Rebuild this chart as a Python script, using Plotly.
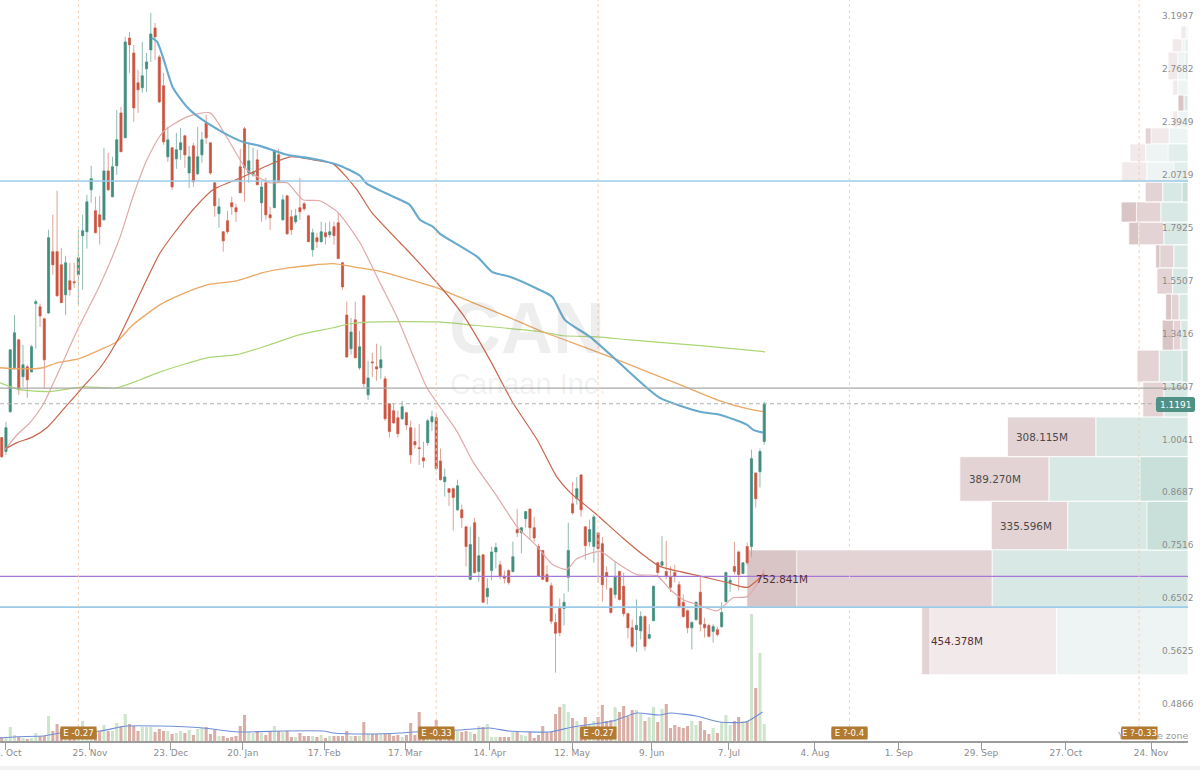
import numpy as np
import plotly.graph_objects as go

# Candles: one entry per trading bar
opens = [1.020,.982,1.095,1.235,1.333,1.205,1.238,1.221,1.472,1.459,1.412,1.435,1.697,1.697,1.637,1.508,1.567,1.563,1.593,1.773,
1.792,2.010,1.898,1.877,1.852,2.117,1.972,2.147,2.481,2.318,3.046,2.924,2.694,2.658,2.799,2.948,3.131,2.892,2.672,2.200,
2.255,2.188,2.243,2.330,2.105,2.267,2.100,2.212,2.414,2.286,2.049,1.883,1.792,1.847,1.940,1.914,2.141,2.375,2.105,2.094,
2.182,1.940,2.049,1.877,1.914,2.212,1.852,1.977,1.867,1.842,1.914,1.935,1.872,1.706,1.763,1.744,1.787,1.777,1.817,1.837,
1.646,1.427,1.301,1.408,1.235,1.504,1.147,1.255,1.238,1.235,1.198,1.119,1.098,1.077,1.074,1.092,1.048,1.009,.992,.965,
1.006,1.065,1.077,.957,.904,.887,.887,.837,.837,.799,.692,.808,.707,.740,.660,.709,.746,.720,.698,.709,
.707,.793,.786,.817,.839,.797,.757,.749,.701,.680,.615,.639,.639,.696,.851,.863,.921,.799,.767,.757,
.786,.763,.705,.675,.664,.707,.679,.630,.606,.603,.601,.625,.589,.618,.724,.719,.707,.696,.705,.682,
.650,.635,.606,.620,.668,.612,.610,.600,.603,.608,.651,.686,.717,.746,.703,.757,.757,.926,.929,1.009]
highs = [1.022,1.065,1.297,1.427,1.337,1.315,1.245,1.315,1.488,1.472,1.416,1.802,1.877,2.005,1.715,1.678,1.646,1.646,1.802,1.877,
1.983,2.147,1.972,1.977,2.255,2.224,2.200,2.502,2.522,3.055,3.097,2.989,2.791,3.013,2.924,3.262,3.174,2.908,2.769,2.388,
2.261,2.349,2.382,2.337,2.267,2.286,2.388,2.356,2.468,2.286,2.049,1.966,1.792,1.898,1.972,1.935,2.249,2.388,2.286,2.255,
2.243,2.055,2.077,1.919,2.243,2.249,1.983,1.983,1.903,1.908,2.077,1.945,1.872,1.807,1.787,1.842,1.837,1.842,1.842,1.888,
1.651,1.480,1.416,1.480,1.366,1.508,1.259,1.287,1.319,1.312,1.208,1.119,1.119,1.098,1.128,1.095,1.068,1.048,1.059,1.009,
1.074,1.098,1.089,.990,.937,.887,.890,.909,.849,.799,.799,.819,.777,.740,.694,.757,.765,.728,.709,.711,
.767,.839,.799,.833,.839,.821,.763,.749,.719,.686,.630,.657,.666,.808,.904,.916,.923,.799,.815,.826,
.786,.777,.717,.677,.726,.709,.705,.632,.620,.655,.634,.627,.612,.680,.726,.779,.769,.717,.720,.688,
.664,.637,.617,.651,.698,.623,.613,.612,.608,.650,.707,.696,.767,.749,.726,.765,.987,.926,.990,1.125]
lows = [.965,.973,1.092,1.228,1.147,1.172,1.137,1.221,1.301,1.381,1.169,1.431,1.593,1.500,1.476,1.427,1.504,1.537,1.468,1.529,
1.711,1.940,1.787,1.730,1.847,2.005,1.972,2.094,2.231,2.318,2.769,2.421,2.481,2.621,2.628,2.853,2.869,2.550,2.274,2.170,
2.010,2.129,2.182,2.135,2.021,2.026,2.094,2.164,2.280,2.094,1.867,1.812,1.697,1.782,1.877,1.842,1.994,1.945,2.049,2.082,
2.038,1.842,1.852,1.802,1.914,2.055,1.847,1.777,1.777,1.832,1.852,1.898,1.744,1.674,1.715,1.739,1.730,1.763,1.730,1.665,
1.529,1.269,1.280,1.269,1.228,1.169,1.131,1.205,1.192,1.198,1.068,1.020,1.059,1.020,1.071,1.042,.950,.990,.947,.939,
.998,1.039,.932,.907,.868,.846,.791,.835,.797,.717,.690,.703,.688,.650,.646,.690,.713,.692,.684,.682,
.705,.777,.743,.797,.771,.767,.696,.690,.686,.612,.536,.592,.610,.669,.826,.849,.821,.730,.757,.724,
.686,.651,.673,.630,.657,.653,.625,.589,.573,.567,.587,.569,.587,.618,.698,.717,.692,.668,.686,.639,
.623,.597,.571,.617,.600,.590,.590,.582,.592,.606,.651,.669,.701,.671,.703,.719,.736,.842,.890,1.000]
closes = [.968,1.048,1.297,1.359,1.163,1.245,1.195,1.308,1.480,1.423,1.262,1.763,1.637,1.504,1.476,1.646,1.529,1.559,1.669,1.797,
1.945,2.072,1.787,1.817,2.117,2.010,2.141,2.305,2.231,3.013,2.989,2.515,2.643,2.746,2.853,3.080,3.055,2.557,2.292,2.305,
2.026,2.243,2.286,2.212,2.200,2.055,2.200,2.305,2.318,2.105,1.924,1.919,1.748,1.792,1.919,1.893,1.994,2.135,2.176,2.111,
2.038,2.026,1.877,1.862,2.237,2.055,1.956,1.782,1.802,1.872,1.893,1.908,1.744,1.787,1.744,1.792,1.768,1.792,1.773,1.665,
1.541,1.272,1.362,1.269,1.308,1.182,1.201,1.252,1.231,1.262,1.074,1.037,1.062,1.031,1.110,1.056,.973,1.000,.990,.957,
1.068,1.080,.937,.909,.916,.878,.866,.894,.819,.757,.761,.705,.738,.650,.675,.746,.755,.698,.694,.686,
.736,.786,.797,.833,.797,.775,.698,.692,.688,.617,.597,.598,.650,.749,.830,.887,.837,.759,.793,.821,
.753,.682,.698,.632,.696,.655,.630,.606,.576,.610,.625,.576,.595,.679,.705,.726,.698,.677,.698,.641,
.625,.606,.615,.650,.612,.606,.592,.608,.595,.632,.705,.690,.707,.701,.724,.724,.963,.863,.982,1.1191]
volumes = [4,3,14,6,4,3,2,3,8,5,5,25,10,17,12,9,10,10,7,20,14,11,10,10,16,10,10,18,15,27,17,15,10,14,14,14,9,12,10,10,
7,8,10,8,11,6,12,13,14,7,11,5,5,3,4,5,15,26,9,8,10,8,6,9,15,10,9,10,4,4,8,5,5,5,4,6,3,5,5,5,
5,10,5,5,5,19,7,7,7,7,7,7,5,6,4,6,18,6,29,7,7,10,21,10,10,12,10,10,9,10,9,7,15,14,17,4,4,4,4,4,
9,9,6,5,9,3,6,15,8,9,27,34,37,29,23,20,14,24,17,20,24,36,20,21,34,29,35,25,31,31,27,20,24,34,19,32,37,13,16,14,
13,15,20,16,20,11,7,13,8,19,26,16,20,24,20,20,127,53,88,17]

# Moving averages: (bar position, price)
ma_pink_x = [.8,3.6,6.6,9.7,13,17.9,23.1,27.8,30.8,34.1,37.9,43.5,48.9,52.9,57.6,63,67,70.7,74.7,79,84.1,88.8,92.8,99.8,102.2,106.9,110.6,116.3,121,125.7,129.4,132.7,135,140.4,144.4,149.1,153.8,156.9,159.9,163.2,167.9,171.7,175,178,179]
ma_pink_y = [.987,1.028,1.062,1.116,1.211,1.374,1.550,1.767,1.972,2.182,2.356,2.454,2.481,2.318,2.123,2.049,2.049,1.956,1.951,1.888,1.739,1.558,1.419,1.169,1.122,1.037,.955,.868,.799,.757,.720,.711,.732,.747,.724,.701,.699,.673,.655,.646,.635,.658,.660,.692,.711]
ma_red_x = [1,3.6,7.3,10.6,14.4,19.1,23.1,27,31.8,37.2,43.5,49.6,56.6,62.3,67.7,73.1,77.8,83.4,86.9,93.5,95.1,103.6,108.3,114.6,120,125.7,130.3,133.4,139.7,145.8,151.5,154.5,164,170.3,175,179]
ma_red_y = [.990,1.006,1.022,1.048,1.101,1.172,1.235,1.326,1.488,1.692,1.867,2.010,2.082,2.147,2.200,2.182,2.158,2.010,1.888,1.739,1.706,1.529,1.427,1.262,1.122,1.014,.916,.878,.826,.775,.734,.717,.698,.686,.677,.703]
ma_orange_x = [-.4,4.3,9.7,13,17.9,23.1,27,30.8,37.2,41.9,48.2,55.2,61.3,67.7,77.8,82.5,88.1,93.5,102.2,110,119.3,127.1,133.4,139.7,147.5,159.2,168.6,175,178.7]
ma_orange_y = [1.235,1.231,1.235,1.252,1.265,1.297,1.326,1.389,1.468,1.508,1.550,1.567,1.602,1.624,1.642,1.628,1.611,1.584,1.537,1.480,1.416,1.362,1.326,1.290,1.245,1.179,1.128,1.104,1.095]
ma_green_x = [-.4,4.3,11.3,19.1,27,32.5,37.2,48.2,55.2,62.3,70,77.8,81.8,88.1,102.2,110,127.1,131.8,139.7,147.5,164,179.2]
ma_green_y = [1.185,1.163,1.157,1.172,1.169,1.195,1.221,1.269,1.280,1.312,1.352,1.378,1.393,1.400,1.400,1.389,1.362,1.348,1.344,1.333,1.312,1.290]
ma_blue_x = [35.3,36.5,37.9,40.2,43.5,46.5,51.7,56.6,60.6,67,73.1,79.4,84.1,85.7,93.5,95.8,98.2,101.2,102.9,111.6,115.1,119.3,125.7,129.2,132.2,138.1,143.5,147.5,154.5,163.9,168.6,175,176.4,178.7]
ma_blue_y = [3.046,3.013,2.885,2.658,2.522,2.447,2.356,2.292,2.267,2.212,2.188,2.147,2.089,2.044,1.956,1.929,1.852,1.817,1.782,1.674,1.606,1.584,1.533,1.500,1.408,1.344,1.272,1.218,1.137,1.095,1.086,1.056,1.042,1.034]
vol_ma_x = [-.4,3.5,9.8,13.7,23.1,29.3,37.2,47.3,55.6,66.1,75.5,77.9,85.7,93.5,96.6,107.5,114.6,119,128.7,134,143.5,149,154.5,157,163,168.5,174.7,178.6]
vol_ma_y = [3,4.3,5,8,10,15,15,13,9,10,10,8,7,8,9,11,13,10,9,14,20,28,26,28,25,19,19,29]

# Volume profile rows (price bands and volumes in millions)
vp_low = [3.038,2.931,2.716,2.605,2.494,2.381,2.279,2.170,2.053,1.944,1.840,1.729,1.623,1.511,1.407,1.296,1.188,1.079,.968,.857,.750,.641,.533]
vp_high = [3.147,3.038,2.931,2.716,2.605,2.494,2.381,2.279,2.170,2.053,1.944,1.840,1.729,1.623,1.511,1.407,1.296,1.188,1.079,.968,.857,.750,.641]
vp_total = [12,27,34,26,17,26,73,99,113,73,114,101,55,53,38,44,87,77,308.115,389.270,335.596,752.841,454.378]
vp_buy = [3,10,17,17,7,17,32,72,70,43,46,41,24,26,15,12,49,41,157,237,205,334,224]
vp_sell_core = [0,0,0,0,10,0,10,0,0,0,26,17,7,0,10,19,0,0,0,0,0,85,14]
vp_buy_core = [0,5,5,0,0,0,0,34,24,10,0,0,0,0,0,0,10,0,0,82,70,0,0]
vp_older = [1,1,1,1,0,1,1,1,1,0,0,0,0,0,0,0,0,0,0,0,0,0,1]
vp_labels = ["308.115M","389.270M","335.596M","752.841M","454.378M"]
vp_label_rows = [18,19,20,21,22]

# Levels and axis labels
level_blue_hi, level_gray, level_last, level_purple, level_blue_lo = 2.059, 1.168, 1.1191, .6976, .6415
y_ticks = [3.1997,2.7682,2.3949,2.0719,1.7925,1.5507,1.3416,1.1607,1.0041,.8687,.7516,.6502,.5625,.4866]
x_tick_bars = [.8,20.7,39.7,56.6,75.7,94.7,114.6,133.9,152.6,170.7,190.9,210.6,229.9,249.8,269.8]
x_tick_labels = ["28. Oct","25. Nov","23. Dec","20. Jan","17. Feb","17. Mar","14. Apr","12. May","9. Jun","7. Jul","4. Aug","1. Sep","29. Sep","27. Oct","24. Nov"]
earnings_bars = [18,102,140,199,267]
earnings_labels = ["E -0.27","E -0.33","E -0.27","E ?-0.4","E ?-0.33"]

W, H = 1200, 770
RIGHT = 1188
BASE = 741
FONT = "DejaVu Sans"
TEAL, RED = "#3f8f7f", "#cb5441"
n = len(closes)
bars = list(range(n))

fig = go.Figure()

def add_blocks(rows, left, right, color):
    xs, ys = [], []
    for r in rows:
        a, b = left[r], right[r]
        xs += [a, b, b, a, a, None]
        ys += [vp_low[r], vp_low[r], vp_high[r], vp_high[r], vp_low[r], None]
    fig.add_trace(go.Scatter(x=xs, y=ys, xaxis="x", yaxis="y", mode="lines", fill="toself",
                             fillcolor=color, line=dict(color="#ffffff", width=0.8), hoverinfo="skip", showlegend=False))

rows = range(len(vp_total))
new = [r for r in rows if not vp_older[r]]
old = [r for r in rows if vp_older[r]]
zero = [0] * len(vp_total)
sell_edge = [t - c for t, c in zip(vp_total, vp_sell_core)]
add_blocks(new, vp_buy, vp_total, "#e3d3d4")
add_blocks(new, zero, vp_buy, "#d8e8e4")
add_blocks(old, vp_buy, vp_total, "#f1e9ea")
add_blocks(old, zero, vp_buy, "#eef4f3")
add_blocks([r for r in new if vp_sell_core[r]], sell_edge, vp_total, "#d9c4c6")
add_blocks([r for r in old if vp_sell_core[r]], sell_edge, vp_total, "#e3d3d4")
add_blocks([r for r in new if vp_buy_core[r]], zero, vp_buy_core, "#c9e0da")
add_blocks([r for r in old if vp_buy_core[r]], zero, vp_buy_core, "#e2eeeb")

# Volume bars
is_up = [c >= o for c, o in zip(closes, opens)]
fig.add_trace(go.Bar(x=bars, y=volumes, xaxis="x2", yaxis="y2", width=0.72,
                     marker=dict(color=["#cfe4cd" if u else "#d9aea6" for u in is_up], line_width=0),
                     hoverinfo="skip", showlegend=False))
fig.add_trace(go.Scatter(x=vol_ma_x, y=vol_ma_y, xaxis="x2", yaxis="y2", mode="lines",
                         line=dict(color="#6f8fd6", width=1.1, shape="spline", smoothing=0.5), hoverinfo="skip", showlegend=False))

# Candles: pale wicks under solid bodies
body_hi = [max(o, c) for o, c in zip(opens, closes)]
body_lo = [min(o, c) for o, c in zip(opens, closes)]
fig.add_trace(go.Candlestick(x=bars, open=opens, high=highs, low=lows, close=closes, xaxis="x2", yaxis="y",
                             whiskerwidth=0,
                             increasing=dict(line=dict(color="#8fbcb2", width=1), fillcolor="#8fbcb2"),
                             decreasing=dict(line=dict(color="#e0a196", width=1), fillcolor="#e0a196"),
                             hoverinfo="skip", showlegend=False))
fig.add_trace(go.Candlestick(x=bars, open=opens, high=body_hi, low=body_lo, close=closes, xaxis="x2", yaxis="y",
                             whiskerwidth=0,
                             increasing=dict(line=dict(color=TEAL, width=0.3), fillcolor=TEAL),
                             decreasing=dict(line=dict(color=RED, width=0.3), fillcolor=RED),
                             hoverinfo="skip", showlegend=False))

# Moving averages
for xs, ys, col, wd in [(ma_green_x, ma_green_y, "#abd676", 1.2), (ma_orange_x, ma_orange_y, "#eba864", 1.3),
                        (ma_pink_x, ma_pink_y, "#e0a9aa", 1.2), (ma_red_x, ma_red_y, "#c8654c", 1.2),
                        (ma_blue_x, ma_blue_y, "#68aacd", 2.1)]:
    fig.add_trace(go.Scatter(x=xs, y=ys, xaxis="x2", yaxis="y", mode="lines",
                             line=dict(color=col, width=wd, shape="spline", smoothing=0.6),
                             hoverinfo="skip", showlegend=False))

# Horizontal levels
x_left = -0.4
x_right = (RIGHT - 1.7) / 4.26
for lvl, col, wd, dash in [(level_blue_hi, "#9bcbe8", 1.6, "solid"), (level_gray, "#a8a8a8", 1.2, "solid"),
                           (level_last, "#b0b0b0", 1.2, "4px,3px"), (level_purple, "#a678d8", 1.2, "solid"),
                           (level_blue_lo, "#9bcbe8", 1.8, "solid")]:
    fig.add_trace(go.Scatter(x=[x_left, x_right], y=[lvl, lvl], xaxis="x2", yaxis="y", mode="lines",
                             line=dict(color=col, width=wd, dash=dash), hoverinfo="skip", showlegend=False))

shapes = [dict(type="rect", xref="paper", yref="paper", x0=0, x1=1, y0=0, y1=(H - 766) / H,
               fillcolor="#f2f2f2", line_width=0, layer="below")]
annotations = []

def round_box(w, h, r=2.5):
    return (f"M {-w/2+r} {-h/2} L {w/2-r} {-h/2} Q {w/2} {-h/2} {w/2} {-h/2+r} L {w/2} {h/2-r} Q {w/2} {h/2} {w/2-r} {h/2} "
            f"L {-w/2+r} {h/2} Q {-w/2} {h/2} {-w/2} {h/2-r} L {-w/2} {-h/2+r} Q {-w/2} {-h/2} {-w/2+r} {-h/2} Z")

badge_y = (H - 733) / H
for b in earnings_bars:
    shapes.append(dict(type="line", xref="x2", yref="paper", x0=b, x1=b, y0=badge_y, y1=1,
                       line=dict(color="#f4cdb0", width=0.9, dash="3px,3px"), layer="above"))
annotations.append(dict(text="Your time zone", xref="paper", yref="paper", x=1116 / W, y=(H - 735) / H, xanchor="left",
                        yanchor="middle", showarrow=False, borderpad=0, font=dict(family=FONT, size=9.5, color="#9a9a9a")))
for b, txt in zip(earnings_bars, earnings_labels):
    shapes.append(dict(type="path", xref="x2", yref="paper", xsizemode="pixel", ysizemode="pixel",
                       xanchor=b, yanchor=badge_y, path=round_box(36, 12), fillcolor="#b27a30", line_width=0, layer="above"))
    annotations.append(dict(text=txt, xref="x2", yref="paper", x=b, y=badge_y, showarrow=False, xanchor="center", yanchor="middle",
                            width=35, height=12, borderpad=0, bgcolor="#b27a30",
                            font=dict(family=FONT, size=8.6, color="#ffffff")))

# Last price tag
tag_x = 1175.5 / W
tag_y = (H - 404.5) / H
shapes.append(dict(type="path", xref="paper", yref="paper", xsizemode="pixel", ysizemode="pixel", xanchor=tag_x, yanchor=tag_y,
                   path=round_box(39, 15), fillcolor="#4f9184", line_width=0, layer="above"))
annotations.append(dict(text=f"{level_last:.4f}", xref="paper", yref="paper", x=tag_x, y=tag_y, showarrow=False,
                        xanchor="center", yanchor="middle", font=dict(family=FONT, size=9, color="#ffffff")))

# Volume profile labels
for txt, r in zip(vp_labels, vp_label_rows):
    dark = r >= 21
    annotations.append(dict(text=txt, xref="x", yref="y", x=vp_total[r], y=np.log10(np.sqrt(vp_low[r] * vp_high[r])),
                            xanchor="left", yanchor="middle", xshift=7, showarrow=False,
                            font=dict(family=FONT, size=10.4, color="#55303a" if dark else "#4a4a4a")))

# Watermark
annotations.append(dict(text="<b>CAN</b>", xref="paper", yref="paper", x=527 / W, y=(H - 328) / H, showarrow=False,
                        xanchor="center", yanchor="middle",
                        font=dict(family="Liberation Sans Narrow, Liberation Sans", size=72, color="rgba(120,120,120,0.13)")))
annotations.append(dict(text="Canaan Inc.", xref="paper", yref="paper", x=528 / W, y=(H - 384) / H, showarrow=False,
                        xanchor="center", yanchor="middle",
                        font=dict(family="Liberation Sans", size=29, color="rgba(120,120,120,0.11)")))

dom_r = RIGHT / W
dom_b = (H - BASE) / H
y_bot = 3.3797 * np.exp(-0.0027375 * BASE)
y_top = 3.3797
vol_top = (H - 608) / H
fig.update_layout(
    width=W, height=H, margin=dict(l=0, r=0, t=0, b=0, autoexpand=False), paper_bgcolor="#ffffff", plot_bgcolor="rgba(0,0,0,0)",
    showlegend=False, boxgap=0.3, dragmode=False,
    xaxis=dict(domain=[0, dom_r], range=[RIGHT / 0.586, 0], visible=False, fixedrange=True),
    xaxis2=dict(domain=[0, dom_r], range=[x_left, x_right], overlaying="x", anchor="y2", showgrid=False, zeroline=False,
                rangeslider=dict(visible=False), showline=True, linecolor="#9b9b9b", linewidth=2,
                tickmode="array", tickvals=x_tick_bars, ticktext=x_tick_labels, ticks="outside", ticklen=7, tickwidth=1.3,
                tickcolor="#9b9b9b", tickfont=dict(family=FONT, size=9, color="#8c8c8c"), fixedrange=True,
                ticklabeloverflow="allow", ticklabelstandoff=-5, automargin=False),
    yaxis=dict(domain=[dom_b, 1], type="log", range=[np.log10(y_bot), np.log10(y_top)], anchor="x", side="right",
               showgrid=False, zeroline=False, showline=False, tickmode="array", tickvals=y_ticks,
               ticktext=[f"{t:.4f}" for t in y_ticks], ticks="", ticklabelstandoff=-27, ticklabelshift=-4,
               tickfont=dict(family=FONT, size=9, color="#8c8c8c"), fixedrange=True),
    yaxis2=dict(domain=[dom_b, vol_top], range=[0, BASE - 608], anchor="x2", visible=False, fixedrange=True),
    shapes=shapes, annotations=annotations,
)
fig.write_html("out.html", config=dict(displayModeBar=False), post_script="document.body.style.margin='0';")
